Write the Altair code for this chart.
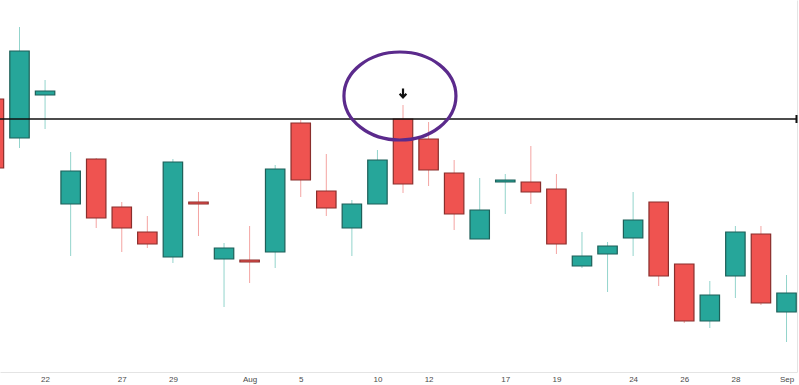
import altair as alt
import pandas as pd

# ---- data (price units are arbitrary) ----
dates = ["Jul 20", "Jul 21", "Jul 22", "Jul 23", "Jul 24", "Jul 27", "Jul 28", "Jul 29",
         "Jul 30", "Jul 31", "Aug 3", "Aug 4", "Aug 5", "Aug 6", "Aug 7", "Aug 10",
         "Aug 11", "Aug 12", "Aug 13", "Aug 14", "Aug 17", "Aug 18", "Aug 19", "Aug 20",
         "Aug 21", "Aug 24", "Aug 25", "Aug 26", "Aug 27", "Aug 28", "Aug 31", "Sep 1"]
opens = [130.1, 126.2, 130.5, 119.6, 124.1, 119.3, 116.8, 114.3, 119.8, 114.1, 114.0, 114.8,
         127.7, 120.9, 117.2, 119.6, 128.1, 126.1, 122.7, 116.1, 121.8, 121.8, 121.1, 113.4,
         114.6, 116.2, 119.8, 113.6, 107.9, 112.4, 116.6, 108.8]
highs = [131.0, 137.3, 132.0, 124.8, 124.2, 119.8, 118.4, 124.1, 120.8, 115.7, 117.4, 123.5,
         128.0, 124.6, 120.0, 125.0, 129.5, 127.8, 124.0, 122.2, 122.6, 125.4, 122.6, 116.8,
         115.8, 120.8, 119.8, 113.6, 111.9, 117.4, 117.4, 112.5]
lows = [122.5, 125.2, 127.1, 114.4, 117.2, 114.8, 115.2, 113.7, 116.4, 109.3, 111.7, 113.2,
        120.3, 118.4, 114.4, 119.6, 120.7, 121.4, 117.0, 116.1, 118.6, 119.6, 114.6, 113.2,
        110.8, 114.4, 111.4, 107.7, 107.2, 110.2, 109.5, 105.8]
closes = [123.2, 134.9, 130.9, 122.9, 118.2, 117.2, 115.6, 123.8, 119.6, 115.2, 113.8, 123.1,
          122.0, 119.2, 119.6, 124.0, 121.6, 123.0, 118.6, 119.0, 122.0, 120.8, 115.6, 114.4,
          115.4, 118.0, 112.4, 107.9, 110.5, 116.8, 109.7, 110.7]

tick_idx = [2, 5, 7, 10, 12, 15, 17, 20, 22, 25, 27, 29, 31]
tick_labels = ["22", "27", "29", "Aug", "5", "10", "12", "17", "19", "24", "26", "28", "Sep"]

level_price = [128.1]
ellipse_idx = [15.88]
ellipse_price = [130.4]
arrow_idx = [16.0]
arrow_price = [130.7]

x_domain = [0.237, 31.41]
y_domain = [102.8, 140.0]

# ---- build tables ----
df = pd.DataFrame({"date": dates, "idx": list(range(len(dates))), "open": opens,
                   "high": highs, "low": lows, "close": closes})
df["dir"] = ["up" if c >= o else "down" for o, c in zip(opens, closes)]

label_expr = "''"
for i, lab in reversed(list(zip(tick_idx, tick_labels))):
    label_expr = f"datum.value == {i} ? '{lab}' : ({label_expr})"

xs = alt.Scale(domain=x_domain, nice=False, zero=False)
ys = alt.Scale(domain=y_domain, nice=False, zero=False)

x_axis = alt.Axis(values=tick_idx, labelExpr=label_expr, title=None, grid=False,
                  ticks=False, domainColor="#e4e4e4", labelFontSize=8, labelColor="#4a4a4a",
                  labelFont="Liberation Sans", labelPadding=3, labelFlush=False,
                  labelOverlap=False)
y_axis = alt.Axis(orient="right", labels=False, ticks=False, grid=False, title=None,
                  domainColor="#e4e4e4")

base = alt.Chart(df)

wicks = base.mark_rule(strokeWidth=1, clip=True).encode(
    x=alt.X("idx:Q", scale=xs, axis=x_axis),
    y=alt.Y("low:Q", scale=ys, axis=y_axis),
    y2="high:Q",
    color=alt.Color("dir:N", scale=alt.Scale(domain=["up", "down"],
                                             range=["#93d4cc", "#f4a4a2"]), legend=None),
)

bodies = base.transform_calculate(
    x0="datum.idx - 0.38", x1="datum.idx + 0.38"
).mark_bar(strokeWidth=1.2, clip=True).encode(
    x=alt.X("x0:Q", scale=xs),
    x2="x1:Q",
    y=alt.Y("open:Q", scale=ys),
    y2="close:Q",
    fill=alt.Fill("dir:N", scale=alt.Scale(domain=["up", "down"],
                                           range=["#26a69a", "#ef5350"]), legend=None),
    stroke=alt.Stroke("dir:N", scale=alt.Scale(domain=["up", "down"],
                                               range=["#1d5f58", "#8a2e2c"]), legend=None),
)

level_df = pd.DataFrame({"price": level_price, "lo": [level_price[0] - 0.4],
                         "hi": [level_price[0] + 0.4], "end": [x_domain[1] - 0.02]})
level = alt.Chart(level_df).mark_rule(color="#111111", strokeWidth=1.5).encode(
    y=alt.Y("price:Q", scale=ys)
)
level_end = alt.Chart(level_df).mark_rule(color="#111111", strokeWidth=2).encode(
    x=alt.X("end:Q", scale=xs), y=alt.Y("lo:Q", scale=ys), y2="hi:Q"
)

ell_df = pd.DataFrame({"idx": ellipse_idx, "price": ellipse_price})
ellipse = alt.Chart(ell_df).mark_point(
    shape="M-1,0A1,0.786,0,1,0,1,0A1,0.786,0,1,0,-1,0Z",
    size=12544, filled=False, stroke="#5b2a8c", strokeWidth=3.2, opacity=1
).encode(x=alt.X("idx:Q", scale=xs), y=alt.Y("price:Q", scale=ys))

arr_df = pd.DataFrame({"idx": arrow_idx, "price": arrow_price})
arrow = alt.Chart(arr_df).mark_point(
    shape="M0,-1L0,0.9M-0.75,0.15L0,0.95L0.75,0.15",
    size=81, filled=False, stroke="#111111", strokeWidth=2.2, opacity=1
).encode(x=alt.X("idx:Q", scale=xs), y=alt.Y("price:Q", scale=ys))

chart = alt.layer(wicks, bodies, level, level_end, ellipse, arrow).properties(
    width=797, height=372,
    autosize=alt.AutoSizeParams(type="none"),
    padding={"left": 0, "top": 0, "right": 2, "bottom": 13},
    background="white",
).configure_view(stroke=None)

chart.save("out.html", embed_options={"renderer": "svg", "actions": False})
